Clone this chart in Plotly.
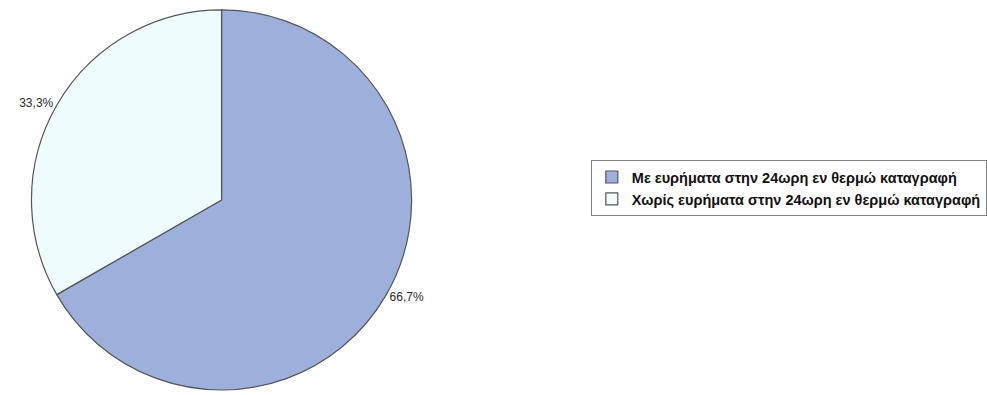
import plotly.graph_objects as go

# Share of recordings with / without findings
labels = [
    "Με ευρήματα στην 24ωρη εν θερμώ καταγραφή",
    "Χωρίς ευρήματα στην 24ωρη εν θερμώ καταγραφή",
]
values = [66.7, 33.3]
value_text = ["66,7%", "33,3%"]
colors = ["#9db0dc", "#effcfd"]

W, H = 987, 395

fig = go.Figure(
    go.Pie(
        labels=labels,
        values=values,
        text=value_text,
        textinfo="text",
        textposition="outside",
        textfont=dict(family="Liberation Sans, Arial, sans-serif", size=12, color="#2a2a2a"),
        marker=dict(colors=colors, line=dict(color="#555555", width=1.2)),
        sort=False,
        direction="clockwise",
        rotation=0,
        domain=dict(x=[29 / W, 415 / W], y=[0, 1 - 10 / H]),
        hoverinfo="label+percent",
    )
)

fig.update_layout(
    width=W,
    height=H,
    margin=dict(l=0, r=0, t=0, b=0),
    paper_bgcolor="white",
    plot_bgcolor="white",
    showlegend=True,
    legend=dict(
        x=592 / W,
        y=1 - 190.5 / H,
        xanchor="left",
        yanchor="middle",
        bordercolor="#808080",
        borderwidth=1,
        bgcolor="white",
        font=dict(family="Liberation Sans, Arial, sans-serif", size=14.5, color="#111111", weight="bold"),
        itemwidth=30,
        tracegroupgap=0,
    ),
)

fig.write_html("out.html")
